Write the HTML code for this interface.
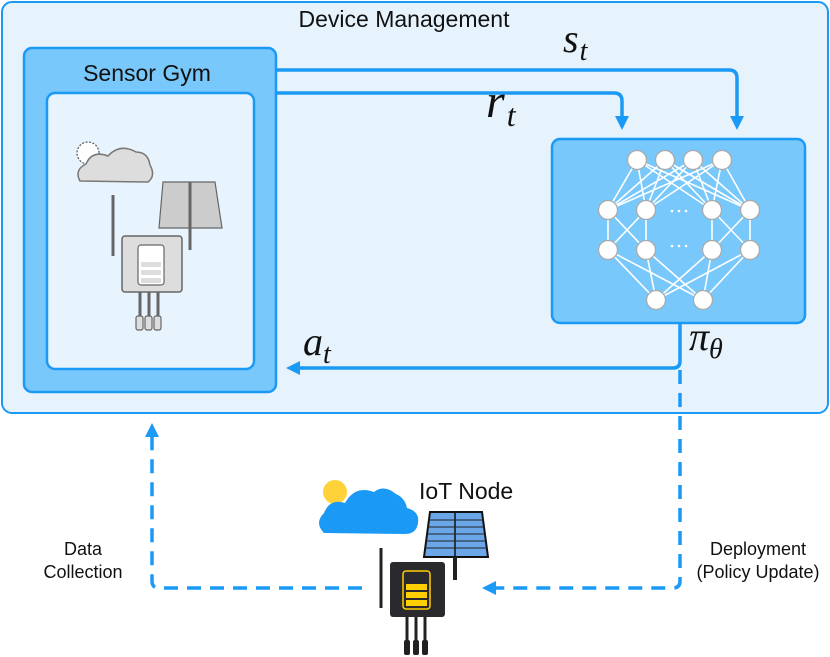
<!DOCTYPE html>
<html><head><meta charset="utf-8"><style>
html,body{margin:0;padding:0;background:#fff;}
svg{display:block;font-family:"Liberation Sans",sans-serif;}
</style></head><body>
<svg width="830" height="657" viewBox="0 0 830 657" xmlns="http://www.w3.org/2000/svg">
<defs>
<marker id="ah" markerWidth="14" markerHeight="14" refX="10" refY="7" orient="auto" markerUnits="userSpaceOnUse">
<path d="M0,0 L14,7 L0,14 Z" fill="#1a9af5"/></marker>
</defs>
<rect x="2" y="2" width="826" height="411" rx="10" fill="#e6f3fd" stroke="#1a9af5" stroke-width="2"/>
<text x="404" y="27" font-size="23" text-anchor="middle" fill="#111">Device Management</text>
<rect x="24" y="48" width="252" height="344" rx="8" fill="#78c8fb" stroke="#1a9af5" stroke-width="2.5"/>
<text x="147" y="81" font-size="23" text-anchor="middle" fill="#111">Sensor Gym</text>
<rect x="47" y="93" width="207" height="276" rx="8" fill="#e8f4fd" stroke="#1a9af5" stroke-width="2.5"/>
<rect x="552" y="139" width="253" height="184" rx="8" fill="#78c8fb" stroke="#1a9af5" stroke-width="2.5"/>
<g stroke="#fff" stroke-width="1.6">
<line x1="637" y1="160" x2="608" y2="210"/><line x1="637" y1="160" x2="646" y2="210"/><line x1="637" y1="160" x2="712" y2="210"/><line x1="637" y1="160" x2="750" y2="210"/>
<line x1="665" y1="160" x2="608" y2="210"/><line x1="665" y1="160" x2="646" y2="210"/><line x1="665" y1="160" x2="712" y2="210"/><line x1="665" y1="160" x2="750" y2="210"/>
<line x1="693" y1="160" x2="608" y2="210"/><line x1="693" y1="160" x2="646" y2="210"/><line x1="693" y1="160" x2="712" y2="210"/><line x1="693" y1="160" x2="750" y2="210"/>
<line x1="722" y1="160" x2="608" y2="210"/><line x1="722" y1="160" x2="646" y2="210"/><line x1="722" y1="160" x2="712" y2="210"/><line x1="722" y1="160" x2="750" y2="210"/>
<line x1="608" y1="210" x2="608" y2="250"/><line x1="646" y1="210" x2="646" y2="250"/><line x1="608" y1="210" x2="646" y2="250"/><line x1="646" y1="210" x2="608" y2="250"/>
<line x1="712" y1="210" x2="712" y2="250"/><line x1="750" y1="210" x2="750" y2="250"/><line x1="712" y1="210" x2="750" y2="250"/><line x1="750" y1="210" x2="712" y2="250"/>
<line x1="608" y1="250" x2="656" y2="300"/><line x1="608" y1="250" x2="703" y2="300"/><line x1="646" y1="250" x2="656" y2="300"/><line x1="646" y1="250" x2="703" y2="300"/>
<line x1="712" y1="250" x2="656" y2="300"/><line x1="712" y1="250" x2="703" y2="300"/><line x1="750" y1="250" x2="656" y2="300"/><line x1="750" y1="250" x2="703" y2="300"/>
</g>
<g fill="#fff" stroke="#aaa" stroke-width="1.3">
<circle cx="637" cy="160" r="9.5"/><circle cx="665" cy="160" r="9.5"/><circle cx="693" cy="160" r="9.5"/><circle cx="722" cy="160" r="9.5"/>
<circle cx="608" cy="210" r="9.5"/><circle cx="646" cy="210" r="9.5"/><circle cx="712" cy="210" r="9.5"/><circle cx="750" cy="210" r="9.5"/>
<circle cx="608" cy="250" r="9.5"/><circle cx="646" cy="250" r="9.5"/><circle cx="712" cy="250" r="9.5"/><circle cx="750" cy="250" r="9.5"/>
<circle cx="656" cy="300" r="9.5"/><circle cx="703" cy="300" r="9.5"/>
</g>
<g fill="#fff"><circle cx="672" cy="211" r="1.3"/><circle cx="679" cy="211" r="1.3"/><circle cx="686" cy="211" r="1.3"/>
<circle cx="672" cy="246" r="1.3"/><circle cx="679" cy="246" r="1.3"/><circle cx="686" cy="246" r="1.3"/></g>
<g fill="none" stroke="#1a9af5" stroke-width="3.5">
<path d="M277,70 H729 Q737,70 737,78 V126" marker-end="url(#ah)"/>
<path d="M277,93 H614 Q622,93 622,101 V126" marker-end="url(#ah)"/>
<path d="M680,324 V361 Q680,368 673,368 H290" marker-end="url(#ah)"/>
<path d="M680,370 V581 Q680,588 673,588 H486" stroke-dasharray="14,9" marker-end="url(#ah)"/>
<path d="M362,588 H159 Q152,588 152,581 V427" stroke-dasharray="14,9" marker-end="url(#ah)"/>
</g>
<g font-family="'Liberation Serif',serif" font-style="italic" fill="#111">
<text x="563" y="52" font-size="40">s<tspan font-size="28" dy="8" dx="1">t</tspan></text>
<text x="486" y="117" font-size="48">r<tspan font-size="32" dy="9" dx="2">t</tspan></text>
<text x="303" y="355" font-size="40">a<tspan font-size="28" dy="8">t</tspan></text>
<text x="689" y="350" font-size="40">π<tspan font-size="28" dy="8">θ</tspan></text>
</g>
<text x="83" y="555" font-size="18" text-anchor="middle" fill="#111">Data</text>
<text x="83" y="578" font-size="18" text-anchor="middle" fill="#111">Collection</text>
<text x="758" y="555" font-size="18" text-anchor="middle" fill="#111">Deployment</text>
<text x="758" y="578" font-size="18" text-anchor="middle" fill="#111">(Policy Update)</text>
<text x="419" y="499" font-size="23" fill="#111">IoT Node</text>
<g stroke="#666" stroke-width="1.2">
<circle cx="88" cy="153" r="11" fill="#fff" stroke="#555" stroke-dasharray="2,1.5"/>
<path d="M80,181 Q74,170 86,164 Q92,150 108,156 Q120,143 136,152 Q148,152 150,165 Q156,176 148,182 Z" fill="#ddd" stroke="#777" stroke-width="1.5"/>
<path d="M163,182 H215 L222,228 H159 Z" fill="#ccc"/>
<line x1="190" y1="182" x2="190" y2="250" stroke-width="3"/>
<line x1="113" y1="195" x2="113" y2="256" stroke-width="3"/>
<rect x="122" y="236" width="60" height="56" rx="3" fill="#ddd" stroke="#666" stroke-width="1.5"/>
<rect x="138" y="245" width="26" height="40" rx="3" fill="#fff"/>
<rect x="141" y="262" width="20" height="5" fill="#ddd" stroke="none"/>
<rect x="141" y="270" width="20" height="5" fill="#ddd" stroke="none"/>
<rect x="141" y="278" width="20" height="5" fill="#ddd" stroke="none"/>
<line x1="140" y1="292" x2="140" y2="318" stroke-width="3"/><line x1="149" y1="292" x2="149" y2="318" stroke-width="3"/><line x1="158" y1="292" x2="158" y2="318" stroke-width="3"/>
<rect x="136" y="316" width="7" height="14" rx="2" fill="#ddd"/><rect x="145" y="316" width="7" height="14" rx="2" fill="#ddd"/><rect x="154" y="316" width="7" height="14" rx="2" fill="#ddd"/>
</g>
<g>
<circle cx="335" cy="492" r="12" fill="#ffd23a"/>
<path d="M324,533 Q314,523 324,513 Q330,498 345,503 Q355,485 374,492 Q384,484 396,494 Q405,498 407,508 Q422,512 417,527 Q414,534 405,534 Z" fill="#1a9af5"/>
<path d="M430,512 H482 L488,557 H424 Z" fill="#6aa6e8" stroke="#111" stroke-width="2"/>
<line x1="455" y1="512" x2="455" y2="557" stroke="#111" stroke-width="1.5"/>
<g stroke="#222" stroke-width="1"><line x1="428" y1="520" x2="484" y2="520"/><line x1="427" y1="527" x2="485" y2="527"/><line x1="426" y1="534" x2="486" y2="534"/><line x1="426" y1="541" x2="487" y2="541"/><line x1="425" y1="548" x2="487" y2="548"/></g>
<line x1="455" y1="557" x2="455" y2="580" stroke="#222" stroke-width="4"/>
<line x1="381" y1="548" x2="381" y2="608" stroke="#222" stroke-width="3"/>
<rect x="390" y="562" width="55" height="55" rx="3" fill="#2a2a2e"/>
<rect x="403" y="571" width="27" height="38" rx="3" fill="none" stroke="#ffcf00" stroke-width="1.5"/>
<rect x="406" y="584" width="21" height="6" fill="#ffcf00"/><rect x="406" y="592" width="21" height="6" fill="#ffcf00"/><rect x="406" y="600" width="21" height="6" fill="#ffcf00"/>
<g stroke="#222" stroke-width="3"><line x1="407" y1="617" x2="407" y2="645"/><line x1="416" y1="617" x2="416" y2="645"/><line x1="425" y1="617" x2="425" y2="645"/></g>
<rect x="404" y="640" width="6" height="15" rx="2" fill="#222"/><rect x="413" y="640" width="6" height="15" rx="2" fill="#222"/><rect x="422" y="640" width="6" height="15" rx="2" fill="#222"/>
</g>
</svg>
</body></html>
